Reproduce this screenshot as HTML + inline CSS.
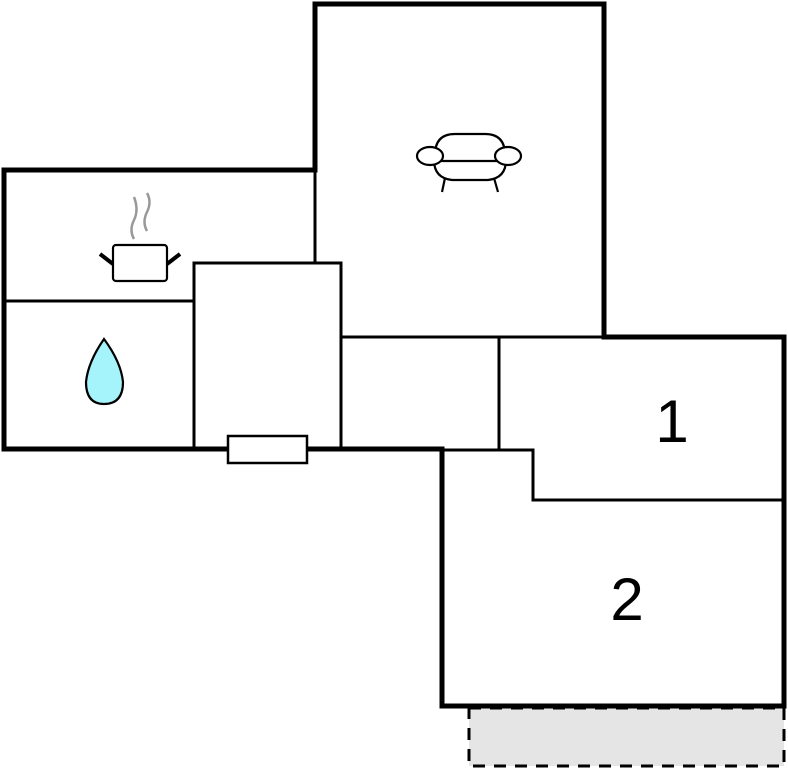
<!DOCTYPE html>
<html><head><style>body{margin:0;background:#fff}svg{display:block}</style></head><body>
<svg width="788" height="768" viewBox="0 0 788 768" xmlns="http://www.w3.org/2000/svg">
<rect x="469" y="708" width="315" height="58" fill="#e5e5e5" stroke="#000" stroke-width="3" stroke-dasharray="12,9"/>
<g fill="none" stroke="#000" stroke-width="3">
<line x1="4" y1="301" x2="194" y2="301"/>
<rect x="194" y="263" width="147" height="186"/>
<line x1="315" y1="170" x2="315" y2="263"/>
<line x1="341" y1="337" x2="604" y2="337"/>
<line x1="499" y1="337" x2="499" y2="449"/>
<polyline points="442,450 533,450 533,500 784,500"/>
</g>
<path d="M4,170 H315 V4 H604 V337 H784 V706 H442 V449 H4 Z" fill="none" stroke="#000" stroke-width="5" stroke-linejoin="miter"/>
<rect x="228" y="436" width="79" height="27" fill="#fff" stroke="#000" stroke-width="2.5"/>
<text x="672" y="442" font-family="Liberation Sans, sans-serif" font-size="60" text-anchor="middle">1</text>
<text x="627" y="620" font-family="Liberation Sans, sans-serif" font-size="60" text-anchor="middle">2</text>
<!-- sofa -->
<g fill="#fff" stroke="#000" stroke-width="2.2">
<line x1="445" y1="178" x2="442" y2="192"/><line x1="494" y1="178" x2="498" y2="192"/>
<path d="M434,160 Q434,178 452,180 H488 Q506,178 506,160 Z"/>
<path d="M435,155 Q435,134 455,134 H485 Q505,134 505,155 V161 H435 Z"/>
<ellipse cx="430" cy="156" rx="13" ry="9"/>
<ellipse cx="508" cy="156" rx="13" ry="9"/>
</g>
<!-- pot -->
<g fill="none">
<path d="M134,239 Q129,230 134,220 Q139,210 134,197" stroke="#999" stroke-width="2.5"/>
<path d="M147,231 Q142,222 147,212 Q152,202 147,193" stroke="#999" stroke-width="2.5"/>
<line x1="100" y1="254" x2="113" y2="264" stroke="#000" stroke-width="4"/>
<line x1="180" y1="254" x2="167" y2="264" stroke="#000" stroke-width="4"/>
<rect x="113" y="245" width="54" height="36" rx="3" fill="#fff" stroke="#000" stroke-width="2.2"/>
</g>
<!-- drop -->
<path d="M104,339 Q88,362 86,382 Q86,404 104,404 Q123,404 123,382 Q121,362 104,339 Z" fill="#a5f3fb" stroke="#000" stroke-width="2.2"/>
</svg>
</body></html>
